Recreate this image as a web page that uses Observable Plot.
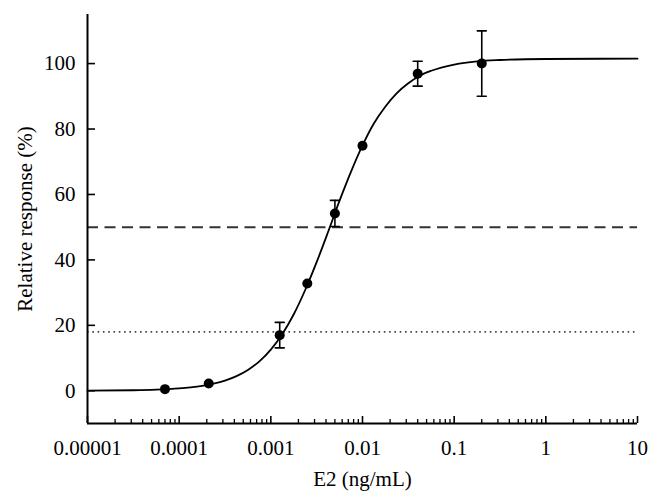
<!DOCTYPE html>
<html>
<head>
<meta charset="utf-8">
<script src="https://cdn.jsdelivr.net/npm/d3@7"></script>
<script src="https://cdn.jsdelivr.net/npm/@observablehq/plot@0.6"></script>
<style>
  html, body { margin: 0; padding: 0; background: #fff; }
  svg { display: block; }
</style>
</head>
<body>
<div id="chart"></div>
<script>
// Measured points (E2 concentration, ng/mL) and relative response (%)
const conc = [0.00007, 0.00021, 0.00125, 0.0025, 0.005, 0.01, 0.04, 0.2];
const response = [0.5, 2.2, 17, 32.8, 54.2, 74.9, 96.9, 100];
const errorBar = [0, 0, 3.9, 0, 4, 0, 3.8, 10];

// Fitted curve
const curveConc = [0.00001, 0.0000316, 0.0000562, 0.0001, 0.000133, 0.000178, 0.000237, 0.000316,
  0.000422, 0.000562, 0.00075, 0.001, 0.00133, 0.00178, 0.00237, 0.00316, 0.00422, 0.00562,
  0.0075, 0.01, 0.0133, 0.0178, 0.0237, 0.0316, 0.0422, 0.0562, 0.1, 0.178, 0.316, 1, 10];
const curveResp = [0.04, 0.16, 0.34, 0.72, 1.04, 1.5, 2.17, 3.11,
  4.47, 6.37, 9.0, 12.6, 17.3, 23.4, 30.8, 39.3, 48.6, 58.1,
  67.0, 75.0, 81.7, 86.9, 91.0, 94.0, 96.3, 97.8, 99.7, 100.7, 101.1, 101.4, 101.5];

// Reference lines
const dashedLevel = [50];
const dottedLevel = [18];

// Ticks
const xMajorTicks = [0.00001, 0.0001, 0.001, 0.01, 0.1, 1, 10];
const xMajorLabels = ["0.00001", "0.0001", "0.001", "0.01", "0.1", "1", "10"];
const xMinorTicks = [];
for (const d of xMajorTicks.slice(0, -1)) for (let k = 2; k <= 9; k++) xMinorTicks.push(d * k);
const yTicks = [0, 20, 40, 60, 80, 100];

const xTitle = "E2 (ng/mL)";
const yTitle = "Relative response (%)";

const points = conc.map((c, i) => ({c, r: response[i], e: errorBar[i]}));
const withErr = points.filter(d => d.e > 0);
const curve = curveConc.map((c, i) => ({c, r: curveResp[i]}));

const capShape = {
  draw(context, l) { context.moveTo(0, 0); context.lineTo(0, -l); }
};

const FS = 21;

const plot = Plot.plot({
  width: 661,
  height: 504,
  marginLeft: 87,
  marginRight: 24,
  marginTop: 14,
  marginBottom: 81,
  style: {fontFamily: "'Liberation Serif', 'DejaVu Serif', serif", fontSize: FS + "px", color: "#000", background: "#fff"},
  x: {type: "log", domain: [0.00001, 10]},
  y: {domain: [-10, 115]},
  marks: [
    Plot.ruleY(dashedLevel, {stroke: "#333", strokeWidth: 2, strokeDasharray: "11,6.5"}),
    Plot.ruleY(dottedLevel, {stroke: "#444", strokeWidth: 1.6, strokeDasharray: "1.6,3.7"}),
    Plot.line(curve, {x: "c", y: "r", stroke: "#000", strokeWidth: 1.8, curve: "monotone-x"}),
    Plot.ruleX(withErr, {x: "c", y1: d => d.r - d.e, y2: d => d.r + d.e, stroke: "#000", strokeWidth: 1.6}),
    Plot.vector(withErr, {x: "c", y: d => d.r + d.e, length: 9, rotate: 90, anchor: "middle", shape: capShape, stroke: "#000", strokeWidth: 1.6}),
    Plot.vector(withErr, {x: "c", y: d => d.r - d.e, length: 9, rotate: 90, anchor: "middle", shape: capShape, stroke: "#000", strokeWidth: 1.6}),
    Plot.dot(points, {x: "c", y: "r", r: 5, fill: "#000", stroke: "none"}),
    Plot.axisY({ticks: yTicks, tickSize: -8, tickPadding: 20, tickFormat: d => String(d), label: null, fontSize: FS, strokeWidth: 1.6}),
    Plot.axisX({ticks: xMinorTicks, tickSize: -4, tickPadding: 0, tickFormat: () => "", label: null, strokeWidth: 1.3}),
    Plot.axisX({ticks: xMajorTicks, tickSize: -7, tickPadding: 24, tickFormat: d => xMajorLabels[xMajorTicks.indexOf(d)], label: null, fontSize: FS, strokeWidth: 1.6}),
    Plot.ruleX([0.00001], {stroke: "#000", strokeWidth: 2}),
    Plot.ruleY([-10], {stroke: "#000", strokeWidth: 2}),
    Plot.text([yTitle], {frameAnchor: "left", rotate: -90, dx: -62, textAnchor: "middle", lineAnchor: "middle", fontSize: FS, fill: "#000"}),
    Plot.text([xTitle], {frameAnchor: "bottom", dy: 56, textAnchor: "middle", lineAnchor: "middle", fontSize: FS, fill: "#000"})
  ]
});
document.getElementById("chart").appendChild(plot);
</script>
</body>
</html>
